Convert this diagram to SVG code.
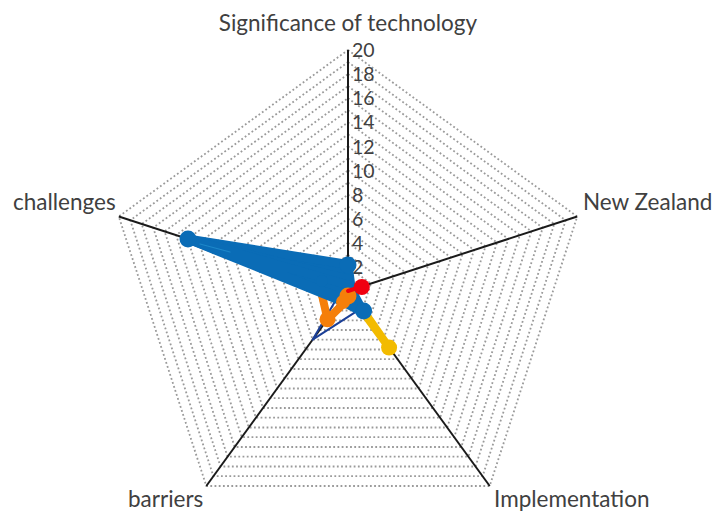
<svg xmlns="http://www.w3.org/2000/svg" width="713" height="513" viewBox="0 0 713 513">
<style>
.grid{fill:none;stroke:#9a9a9a;stroke-width:1.8;stroke-dasharray:1.8 2.4}
.axis{stroke:#1a1a1a;stroke-width:2;fill:none}
.lbl{font-family:Lato,"Liberation Sans",sans-serif;font-size:22.5px;fill:#404040}
.tick{font-family:Lato,"Liberation Sans",sans-serif;font-size:19.5px;fill:#404040}
.s{fill:none;stroke-linejoin:round;stroke-linecap:round}
</style>
<rect width="713" height="513" fill="#ffffff"/>
<g id="grid">
<polygon class="grid" points="348,279.0 359.5,287.3 355.1,300.8 340.9,300.8 336.5,287.3"/>
<polygon class="grid" points="348,266.9 370.9,283.6 362.2,310.5 333.8,310.5 325.1,283.6"/>
<polygon class="grid" points="348,254.9 382.4,279.8 369.3,320.3 326.8,320.3 313.6,279.8"/>
<polygon class="grid" points="348,242.8 393.8,276.1 376.3,330.0 319.7,330.0 302.2,276.1"/>
<polygon class="grid" points="348,230.8 405.3,272.4 383.4,339.7 312.6,339.7 290.7,272.4"/>
<polygon class="grid" points="348,218.7 416.8,268.7 390.5,349.5 305.5,349.5 279.2,268.7"/>
<polygon class="grid" points="348,206.7 428.2,264.9 397.6,359.2 298.4,359.2 267.8,264.9"/>
<polygon class="grid" points="348,194.6 439.7,261.2 404.7,369.0 291.3,369.0 256.3,261.2"/>
<polygon class="grid" points="348,182.6 451.1,257.5 411.8,378.7 284.3,378.7 244.9,257.5"/>
<polygon class="grid" points="348,170.5 462.6,253.8 418.8,388.5 277.2,388.5 233.4,253.8"/>
<polygon class="grid" points="348,158.5 474.1,250.0 425.9,398.2 270.1,398.2 221.9,250.0"/>
<polygon class="grid" points="348,146.4 485.5,246.3 433.0,408.0 263.0,408.0 210.5,246.3"/>
<polygon class="grid" points="348,134.4 497.0,242.6 440.1,417.7 255.9,417.7 199.0,242.6"/>
<polygon class="grid" points="348,122.3 508.4,238.9 447.2,427.5 248.8,427.5 187.6,238.9"/>
<polygon class="grid" points="348,110.3 519.9,235.1 454.2,437.2 241.8,437.2 176.1,235.1"/>
<polygon class="grid" points="348,98.2 531.4,231.4 461.3,447.0 234.7,447.0 164.6,231.4"/>
<polygon class="grid" points="348,86.2 542.8,227.7 468.4,456.7 227.6,456.7 153.2,227.7"/>
<polygon class="grid" points="348,74.1 554.3,224.0 475.5,466.5 220.5,466.5 141.7,224.0"/>
<polygon class="grid" points="348,62.1 565.7,220.3 482.6,476.2 213.4,476.2 130.3,220.3"/>
<polygon class="grid" points="348,50.0 577.2,216.5 489.7,486.0 206.3,486.0 118.8,216.5"/>
</g>
<g id="axes">
<line class="axis" x1="348" y1="291" x2="348" y2="50" stroke-width="2.6"/>
<line class="axis" x1="348" y1="291" x2="577.2" y2="216.5"/>
<line class="axis" x1="348" y1="291" x2="489.7" y2="486"/>
<line class="axis" x1="348" y1="291" x2="206.3" y2="486"/>
<line class="axis" x1="348" y1="291" x2="118.8" y2="216.5"/>
</g>
<g id="ticks" class="tick">
<text x="352" y="274">2</text>
<text x="352" y="249.9">4</text>
<text x="352" y="225.8">6</text>
<text x="352" y="201.7">8</text>
<text x="352" y="177.6">10</text>
<text x="352" y="153.5">12</text>
<text x="352" y="129.4">14</text>
<text x="352" y="105.3">16</text>
<text x="352" y="81.2">18</text>
<text x="352" y="57.1">20</text>
</g>
<g id="axis-labels" class="lbl">
<text x="348" y="31" text-anchor="middle">Significance of technology</text>
<text x="13" y="210">challenges</text>
<text x="583" y="210">New Zealand</text>
<text x="128" y="507">barriers</text>
<text x="494" y="507">Implementation</text>
</g>
<g id="series-yellow">
<polyline class="s" stroke="#f2bb00" stroke-width="8" points="349,293 389.1,347.6 351,293"/>
<circle cx="389.1" cy="347.6" r="8" fill="#f2bb00"/>
</g>
<g id="series-navy">
<polygon class="s" stroke="#1b3f97" stroke-width="2" points="348,287.5 350.9,290.1 360.8,308.6 312.6,339.7 342.3,289.1"/>
</g>
<g id="series-orange">
<polygon class="s" stroke="#f57f0a" stroke-width="8" points="348,291 349,291 351.5,295.9 327.5,319.3 319.4,283.7"/>
</g>
<g id="series-green">
<polygon class="s" stroke="#3e9e2c" stroke-width="6" points="348,287.4 350,290.5 349.5,293 346,293 333.1,286.2"/>
</g>
<g id="series-blue">
<polygon fill="#0a6cb6" stroke="none" points="188,239 348,265 341,300"/>
<polygon class="s" stroke="#0a6cb6" stroke-width="9" points="348,264.5 351.4,289.9 363.6,312.4 340.9,300.8 187.6,238.9"/>
<polygon class="s" stroke="#0a6cb6" stroke-width="9" points="348,279 348.5,291 350,294 344,293 192.1,240.4"/>
<polygon class="s" stroke="#0a6cb6" stroke-width="9" points="348,285 350,291 352,296 336,296 189.9,239.6"/>
<polyline class="s" stroke="#2a9ad6" stroke-width="1.2" points="200,244 230,252" opacity="0.6"/>
</g>
<g id="dots-orange" fill="#f57f0a">
<circle cx="348" cy="296" r="8.5"/>
<circle cx="327.5" cy="319.3" r="8"/>
<circle cx="343" cy="302" r="7"/>
</g>
<g id="dots-blue" fill="#0a6cb6">
<circle cx="188" cy="239" r="8.5"/>
<circle cx="348" cy="265" r="8.5"/>
<circle cx="363.6" cy="311" r="8.5"/>
<circle cx="322" cy="281" r="6"/>
</g>
<g id="series-red">
<polyline class="s" stroke="#f00010" stroke-width="4" points="348,291 361.8,286.5"/>
<circle cx="361.8" cy="287" r="8" fill="#f00010"/>
</g>
</svg>
